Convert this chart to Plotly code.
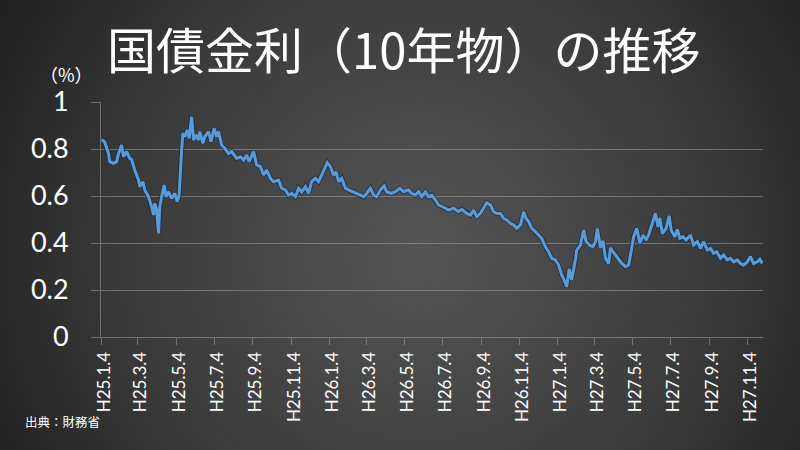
import base64
import pandas as pd
import plotly.graph_objects as go

# ---- data ----
base_date = "2013-01-04"
day_offsets = [1, 6, 12, 14, 20, 25, 28, 33, 36, 41, 46, 49, 54, 60, 62, 67, 70, 76, 81, 84,
               86, 89, 92, 94, 97, 101, 104, 108, 113, 118, 122, 125, 129, 131, 134, 138, 141, 145, 148, 152,
               156, 158, 163, 166, 172, 176, 181, 185, 188, 193, 198, 204, 209, 217, 223, 228, 233, 237, 244, 249,
               255, 260, 265, 271, 276, 284, 289, 295, 300, 305, 311, 316, 321, 327, 332, 337, 343, 348, 353, 359,
               362, 367, 372, 376, 380, 385, 391, 396, 404, 409, 415, 420, 425, 431, 436, 441, 447, 453, 457, 464,
               471, 478, 484, 492, 497, 503, 508, 513, 519, 524, 529, 535, 540, 551, 556, 564, 572, 577, 585, 591,
               596, 601, 607, 612, 617, 623, 628, 633, 639, 644, 649, 655, 660, 665, 671, 676, 680, 684, 689, 695,
               700, 705, 711, 716, 721, 727, 732, 737, 742, 745, 749, 753, 759, 761, 767, 772, 776, 782, 787, 791,
               794, 799, 803, 807, 812, 815, 819, 823, 828, 833, 839, 844, 848, 852, 857, 862, 867, 872, 876, 882,
               887, 891, 894, 898, 904, 909, 912, 918, 922, 926, 931, 936, 943, 948, 954, 959, 964, 970, 975, 980,
               985, 991, 996, 1002, 1007, 1012, 1018, 1023, 1028, 1034, 1039, 1044, 1050, 1054, 1058]
yields = [0.84, 0.83, 0.78, 0.746, 0.739, 0.746, 0.78, 0.817, 0.767, 0.789, 0.76, 0.755, 0.71, 0.668, 0.64, 0.66, 0.626, 0.597, 0.554, 0.519,
          0.569, 0.54, 0.441, 0.554, 0.597, 0.647, 0.597, 0.618, 0.59, 0.611, 0.576, 0.604, 0.796, 0.867, 0.852, 0.881, 0.845, 0.937, 0.838, 0.86,
          0.838, 0.874, 0.824, 0.852, 0.874, 0.831, 0.888, 0.852, 0.874, 0.817, 0.803, 0.78, 0.789, 0.76, 0.767, 0.753, 0.774, 0.746, 0.789, 0.732,
          0.725, 0.689, 0.711, 0.675, 0.661, 0.668, 0.633, 0.626, 0.604, 0.611, 0.597, 0.633, 0.618, 0.64, 0.611, 0.661, 0.675, 0.661, 0.689, 0.725,
          0.742, 0.725, 0.689, 0.703, 0.661, 0.675, 0.633, 0.626, 0.618, 0.611, 0.604, 0.597, 0.611, 0.633, 0.604, 0.597, 0.626, 0.643, 0.618, 0.611,
          0.618, 0.633, 0.618, 0.626, 0.611, 0.604, 0.618, 0.597, 0.618, 0.597, 0.604, 0.583, 0.562, 0.548, 0.54, 0.548, 0.533, 0.543, 0.526, 0.519,
          0.54, 0.512, 0.526, 0.548, 0.571, 0.562, 0.533, 0.526, 0.526, 0.505, 0.498, 0.484, 0.477, 0.462, 0.477, 0.533, 0.505, 0.491, 0.462, 0.448,
          0.434, 0.42, 0.384, 0.363, 0.335, 0.328, 0.306, 0.264, 0.235, 0.214, 0.29, 0.243, 0.33, 0.37, 0.391, 0.455, 0.406, 0.39, 0.384, 0.406,
          0.462, 0.38, 0.41, 0.335, 0.313, 0.38, 0.363, 0.349, 0.335, 0.313, 0.299, 0.306, 0.363, 0.427, 0.462, 0.399, 0.434, 0.413, 0.434, 0.484,
          0.526, 0.469, 0.505, 0.44, 0.462, 0.515, 0.455, 0.427, 0.458, 0.42, 0.427, 0.413, 0.434, 0.391, 0.406, 0.377, 0.406, 0.37, 0.377, 0.356,
          0.363, 0.335, 0.349, 0.328, 0.335, 0.32, 0.328, 0.313, 0.306, 0.32, 0.342, 0.313, 0.32, 0.331, 0.313]

tick_dates = ["2013-01-04", "2013-03-04", "2013-05-04", "2013-07-04", "2013-09-04", "2013-11-04",
              "2014-01-04", "2014-03-04", "2014-05-04", "2014-07-04", "2014-09-04", "2014-11-04",
              "2015-01-04", "2015-03-04", "2015-05-04", "2015-07-04", "2015-09-04", "2015-11-04"]
tick_labels = ["H25.1.4", "H25.3.4", "H25.5.4", "H25.7.4", "H25.9.4", "H25.11.4",
               "H26.1.4", "H26.3.4", "H26.5.4", "H26.7.4", "H26.9.4", "H26.11.4",
               "H27.1.4", "H27.3.4", "H27.5.4", "H27.7.4", "H27.9.4", "H27.11.4"]
y_ticks = [0, 0.2, 0.4, 0.6, 0.8, 1]
y_tick_labels = ["0", "0.2", "0.4", "0.6", "0.8", "1"]

title_text = "国債金利（10年物）の推移"
unit_text = "（%）"
source_text = "出典：財務省"

dates = pd.Timestamp(base_date) + pd.to_timedelta(day_offsets, unit="D")

# ---- layout geometry ----
W, H = 800, 450
ml, mr, mt, mb = 101, 37, 102, 113
pw, ph = W - ml - mr, H - mt - mb

# radial gradient background as svg image
svg = f'''<svg xmlns="http://www.w3.org/2000/svg" width="{W}" height="{H}">
<defs><radialGradient id="g" gradientUnits="userSpaceOnUse" cx="420" cy="250" r="520">
<stop offset="0" stop-color="#555555"/><stop offset="0.55" stop-color="#3b3b3b"/><stop offset="1" stop-color="#1b1b1b"/>
</radialGradient></defs><rect width="{W}" height="{H}" fill="url(#g)"/></svg>'''
bg_src = "data:image/svg+xml;base64," + base64.b64encode(svg.encode()).decode()

fig = go.Figure()
fig.add_trace(go.Scatter(x=dates, y=yields, mode="lines",
                         line=dict(color="rgba(25,45,75,0.75)", width=5),
                         hoverinfo="skip", showlegend=False))
fig.add_trace(go.Scatter(x=dates, y=yields, mode="lines",
                         line=dict(color="#5b9bd5", width=3), showlegend=False))

fig.add_layout_image(dict(source=bg_src, xref="paper", yref="paper",
                          x=-ml / pw, y=1 + mt / ph, sizex=W / pw, sizey=H / ph,
                          xanchor="left", yanchor="top", sizing="stretch", layer="below"))

grid_c = "rgba(160,160,160,0.55)"
fig.update_layout(
    width=W, height=H,
    margin=dict(l=ml, r=mr, t=mt, b=mb, pad=0, autoexpand=False),
    paper_bgcolor="#2e2e2e", plot_bgcolor="rgba(0,0,0,0)",
    xaxis=dict(type="date", range=["2013-01-04", "2015-11-29"],
               tickmode="array", tickvals=tick_dates, ticktext=tick_labels,
               tickangle=-90, ticks="outside", ticklen=7, tickcolor=grid_c,
               showgrid=False, showline=True, linecolor=grid_c, linewidth=1,
               zeroline=False, automargin=False, ticklabelstandoff=0, ticklabelshift=3,
               tickfont=dict(family="Lato, 'Open Sans', sans-serif", size=17, color="white")),
    yaxis=dict(range=[0, 1], tickmode="array", tickvals=y_ticks, ticktext=y_tick_labels,
               ticks="outside", ticklen=9, tickcolor=grid_c,
               showgrid=True, gridcolor=grid_c, gridwidth=1,
               showline=True, linecolor=grid_c, linewidth=1, zeroline=False,
               ticklabelstandoff=17, automargin=False,
               tickfont=dict(family="Lato, 'Open Sans', sans-serif", size=27, color="white")),
    font=dict(family="'Noto Sans CJK JP', sans-serif", color="white"),
)

fig.add_annotation(text=title_text, xref="paper", yref="paper",
                   x=(403 - ml) / pw, y=1 + (mt - 48) / ph, xanchor="center", yanchor="middle",
                   showarrow=False,
                   font=dict(family="'Noto Sans CJK JP', sans-serif", size=49, color="white"))
fig.add_annotation(text=unit_text, xref="paper", yref="paper",
                   x=(66 - ml) / pw, y=1 + (mt - 74) / ph, xanchor="center", yanchor="middle",
                   showarrow=False,
                   font=dict(family="'Noto Sans CJK JP', sans-serif", size=18, color="white"))
fig.add_annotation(text=source_text, xref="paper", yref="paper",
                   x=(23 - ml) / pw, y=-(421 - mt - ph) / ph, xanchor="left", yanchor="middle",
                   showarrow=False,
                   font=dict(family="'Noto Sans CJK JP', sans-serif", size=12.5, color="white"))

fig.write_html("out.html", config={"displayModeBar": False},
               post_script="document.body.style.margin='0';document.body.style.overflow='hidden';")
